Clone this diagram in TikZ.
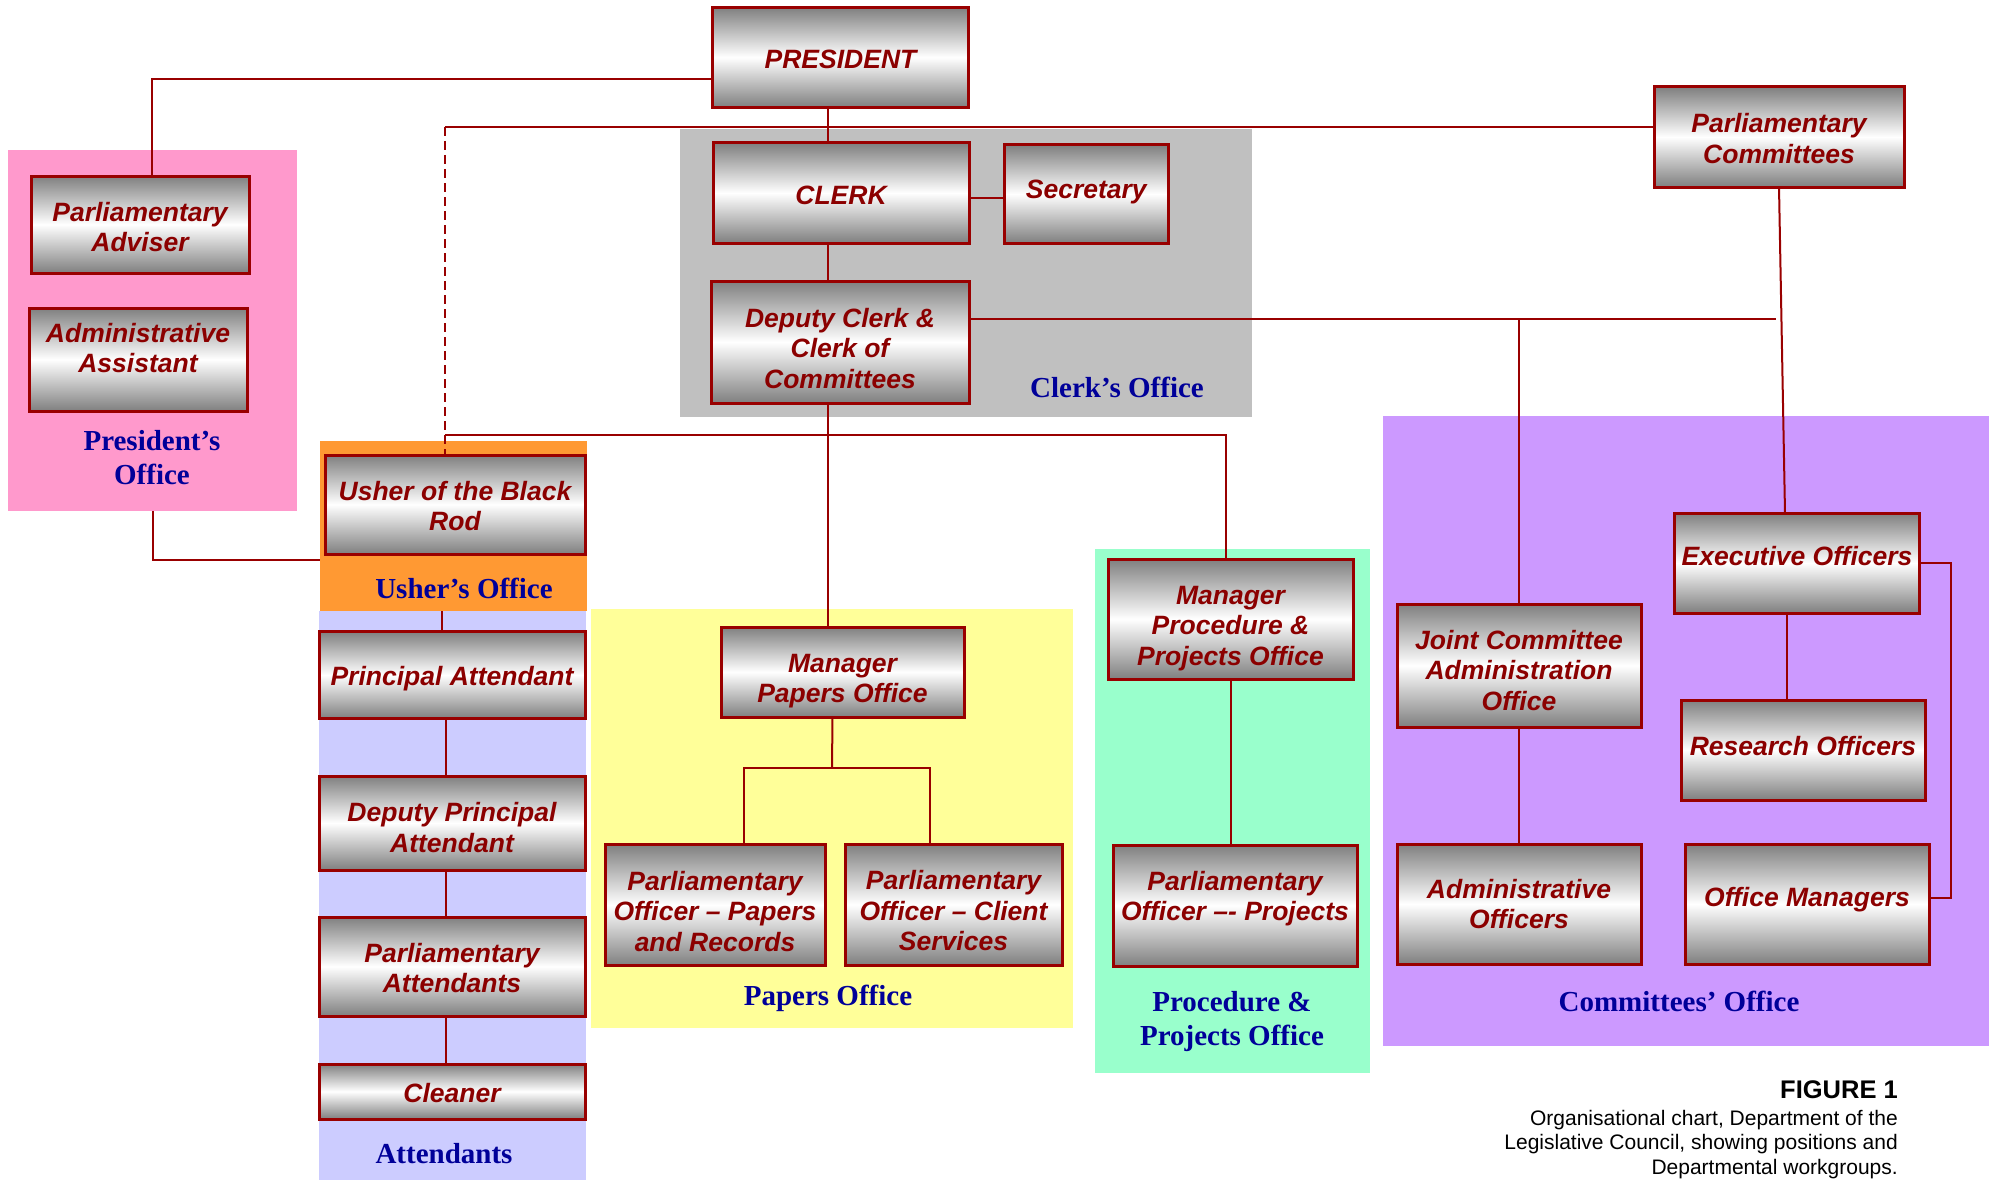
\documentclass[tikz,border=0pt]{standalone}
\usepackage{fontspec}
\newfontfamily\boxfont{Liberation Sans}
\newfontfamily\labfont{Liberation Serif}
\usetikzlibrary{calc}
\definecolor{boxred}{RGB}{139,0,0}
\definecolor{linered}{RGB}{153,0,0}
\definecolor{labblue}{RGB}{0,0,153}
\definecolor{pinkc}{HTML}{FF99CC}
\definecolor{greyc}{HTML}{C0C0C0}
\definecolor{orangec}{HTML}{FF9933}
\definecolor{lavc}{HTML}{CCCCFF}
\definecolor{yellowc}{HTML}{FFFF99}
\definecolor{greenc}{HTML}{99FFCC}
\definecolor{purplec}{HTML}{CC99FF}
\begin{document}
\begin{tikzpicture}[x=1pt,y=-1pt,
  posbox/.style={draw=linered, line width=3pt, top color=black!50, bottom color=black!50, middle color=white,
    inner sep=0pt, outer sep=0pt},
  postext/.style={text=boxred, font=\boxfont\bfseries\itshape\fontsize{26.5}{30.5}\selectfont, align=center,
    inner sep=0pt, outer sep=0pt},
  wire/.style={draw=linered, line width=2pt},
  region/.style={draw=none, inner sep=0pt, outer sep=0pt},
  officelab/.style={text=labblue, font=\labfont\bfseries\fontsize{29}{34}\selectfont, align=center, inner sep=0pt}]
\useasboundingbox (0,0) rectangle (1992,1180);

% regions
\node[region, fill=pinkc, minimum width=289, minimum height=361] (Rpres) at (152.5,330.5) {};
\node[region, fill=greyc, minimum width=572, minimum height=288] (Rclk) at (966,273) {};
\node[region, fill=lavc, minimum width=267, minimum height=569] (Ratt) at (452.5,895.5) {};
\node[region, fill=orangec, minimum width=267, minimum height=170] (Rush) at (453.5,526) {};
\node[region, fill=yellowc, minimum width=482, minimum height=419] (Rpap) at (832,818.5) {};
\node[region, fill=greenc, minimum width=275, minimum height=524] (Rproc) at (1232.5,811) {};
\node[region, fill=purplec, minimum width=606, minimum height=630] (Rcom) at (1686,731) {};

% office labels
\node[officelab] (Lpres) at (152,458) {President’s\\Office};
\node[officelab] (Lclk) at (1117,387) {Clerk’s Office};
\node[officelab] (Lush) at (464,588) {Usher’s Office};
\node[officelab] (Latt) at (444,1154) {Attendants};
\node[officelab] (Lpap) at (828,998) {Papers Office};
\node[officelab] (Lproc) at (1232,1022) {Procedure \&\\Projects Office};
\node[officelab] (Lcom) at (1679,1001) {Committees’ Office};

% positions (box, then its text)
\node[posbox, minimum width=256, minimum height=100] (pres) at (840.5,57.3) {};
\node[postext] (presT) at ([yshift=-2.5pt]pres.center) {PRESIDENT};
\node[posbox, minimum width=256, minimum height=100] (clerk) at (841,193) {};
\node[postext] (clerkT) at ([yshift=-2.5pt]clerk.center) {CLERK};
\node[posbox, minimum width=164.6, minimum height=98] (sec) at (1086.3,194) {};
\node[postext] (secT) at ([yshift=2.5pt]sec.center) {Secretary};
\node[posbox, minimum width=258, minimum height=122] (dep) at (840,342) {};
\node[postext] (depT) at ([yshift=-6.5pt]dep.center) {Deputy Clerk \&\\Clerk of\\Committees};
\node[posbox, minimum width=218, minimum height=97] (padv) at (140,224.5) {};
\node[postext] (padvT) at ([yshift=-2.5pt]padv.center) {Parliamentary\\Adviser};
\node[posbox, minimum width=218, minimum height=103] (aasst) at (138,359.5) {};
\node[postext] (aasstT) at ([yshift=11.5pt]aasst.center) {Administrative\\Assistant};
\node[posbox, minimum width=250, minimum height=100] (pc) at (1779,137) {};
\node[postext] (pcT) at ([yshift=-1.3pt]pc.center) {Parliamentary\\Committees};
\node[posbox, minimum width=260, minimum height=99] (usher) at (455,504.5) {};
\node[postext] (usherT) at ([yshift=-1.3pt]usher.center) {Usher of the Black\\Rod};
\node[posbox, minimum width=266, minimum height=87] (pa) at (452,675) {};
\node[postext] (paT) at ([yshift=-4pt]pa.center) {Principal Attendant};
\node[posbox, minimum width=266, minimum height=94] (dpa) at (452,823) {};
\node[postext] (dpaT) at ([yshift=-4.5pt]dpa.center) {Deputy Principal\\Attendant};
\node[posbox, minimum width=266, minimum height=99] (patt) at (452,966.5) {};
\node[postext] (pattT) at ([yshift=-1.3pt]patt.center) {Parliamentary\\Attendants};
\node[posbox, minimum width=266, minimum height=55] (cln) at (452,1091.5) {};
\node[postext] (clnT) at ([yshift=-1.3pt]cln.center) {Cleaner};
\node[posbox, minimum width=243, minimum height=90] (mpap) at (842.5,672) {};
\node[postext] (mpapT) at ([yshift=-9pt]mpap.center) {Manager\\Papers Office};
\node[posbox, minimum width=220, minimum height=121] (poP) at (715,905) {};
\node[postext] (poPT) at ([yshift=-6.5pt]poP.center) {Parliamentary\\Officer – Papers\\and Records};
\node[posbox, minimum width=217, minimum height=121] (poC) at (953.5,904.5) {};
\node[postext] (poCT) at ([yshift=-6.5pt]poC.center) {Parliamentary\\Officer – Client\\Services};
\node[posbox, minimum width=245, minimum height=120] (mproc) at (1230.5,619) {};
\node[postext] (mprocT) at ([yshift=-9.5pt]mproc.center) {Manager\\Procedure \&\\Projects Office};
\node[posbox, minimum width=244, minimum height=121] (poproj) at (1235,905.5) {};
\node[postext] (poprojT) at ([yshift=7pt]poproj.center) {Parliamentary\\Officer –{}- Projects};
\node[posbox, minimum width=244, minimum height=123] (jc) at (1519,665.5) {};
\node[postext] (jcT) at ([yshift=-5pt]jc.center) {Joint Committee\\Administration\\Office};
\node[posbox, minimum width=244, minimum height=120] (ao) at (1519,904) {};
\node[postext] (aoT) at (ao.center) {Administrative\\Officers};
\node[posbox, minimum width=244.5, minimum height=100] (eo) at (1797,563) {};
\node[postext] (eoT) at ([yshift=6.5pt]eo.center) {Executive Officers};
\node[posbox, minimum width=244, minimum height=100] (ro) at (1803,750) {};
\node[postext] (roT) at ([yshift=4pt]ro.center) {Research Officers};
\node[posbox, minimum width=244, minimum height=120] (om) at (1807,904) {};
\node[postext] (omT) at ([yshift=4pt]om.center) {Office Managers};

% helper coordinates
\coordinate (tl) at (445,127);
\coordinate (ul) at (445,435);
\coordinate (sp) at (828,0);
\coordinate (dr) at (1776,319);
\coordinate (pj) at (832,768);
\coordinate (br) at (1951,0);

% connectors
\draw[wire] ([yshift=-22pt]pres.west) -| ([xshift=12pt]padv.north);
\draw[wire] (pres.south -| sp) -- (clerk.north -| sp);
\draw[wire] (clerk.south -| sp) -- (dep.north -| sp);
\draw[wire] (dep.south -| sp) -- (mpap.north -| sp);
\draw[wire] ([yshift=-5pt]clerk.east) -- ([yshift=-5pt]clerk.east -| sec.west);
\draw[wire] (tl) -- (tl -| pc.west);
\draw[wire, dash pattern=on 9pt off 5pt] (tl) -- (tl |- usher.north);
\draw[wire] (ul) -| ([xshift=-4.5pt]mproc.north);
\draw[wire] ([yshift=23pt]dep.east) -- (dr);
\draw[wire] (jc.north |- dr) -- (jc.north);
\draw[wire] (Rpres.south) |- ([yshift=-34pt]Rush.west);
\draw[wire] ([xshift=-10pt]pa.north |- Rush.south) -- ([xshift=-10pt]pa.north);
\draw[wire] ([xshift=-6pt]pa.south) -- ([xshift=-6pt]dpa.north);
\draw[wire] ([xshift=-6pt]dpa.south) -- ([xshift=-6pt]patt.north);
\draw[wire] ([xshift=-6pt]patt.south) -- ([xshift=-6pt]cln.north);
\draw[wire] ([xshift=-10pt]mpap.south) -- (pj);
\draw[wire] ([xshift=29pt]poP.north) |- (pj) -| ([xshift=-23.5pt]poC.north);
\draw[wire] (mproc.south) -- (mproc.south |- poproj.north);
\draw[wire] (jc.south) -- (ao.north);
\draw[wire] (pc.south) -- ([xshift=-12pt]eo.north);
\draw[wire] ([xshift=-10pt]eo.south) -- ([xshift=-10pt]eo.south |- ro.north);
\draw[wire] (eo.east) -- (eo.east -| br) -- ([yshift=6pt]om.east -| br) -- ([yshift=6pt]om.east);

% caption
\node[anchor=east, inner sep=0pt, font=\boxfont\bfseries\fontsize{25.5}{28}\selectfont] (fig) at (1898,1090) {FIGURE 1};
\node[anchor=east, inner sep=0pt, align=right, font=\boxfont\fontsize{21}{24.5}\selectfont] (cap) at (1898,1144.5) {Organisational chart, Department of the\\Legislative Council, showing positions and\\Departmental workgroups.};
\end{tikzpicture}
\end{document}
